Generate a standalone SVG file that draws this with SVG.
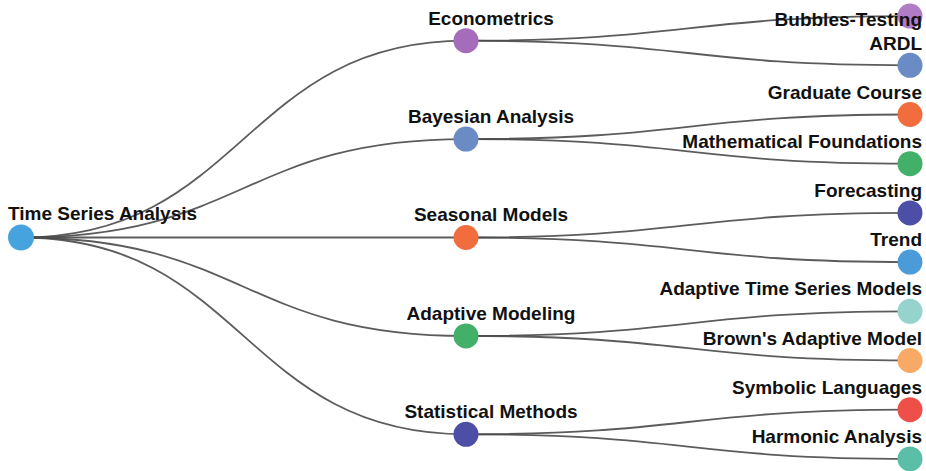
<svg xmlns="http://www.w3.org/2000/svg" width="926" height="471" viewBox="0 0 926 471">
<style>
.link{fill:none;stroke:#4a4a4a;stroke-width:1.8;stroke-opacity:0.9}
text{font-family:"Liberation Sans",Arial,sans-serif;font-weight:bold;font-size:19px;fill:#111}
.leaf text{text-anchor:end}
circle{stroke:none}
</style>
<rect width="926" height="471" fill="#fff"/>
<g id="links">
<path class="link" d="M21,237.5 C243.5,237.5 243.5,40.7 466,40.7"/>
<path class="link" d="M21,237.5 C243.5,237.5 243.5,139.1 466,139.1"/>
<path class="link" d="M21,237.5 C243.5,237.5 243.5,237.5 466,237.5"/>
<path class="link" d="M21,237.5 C243.5,237.5 243.5,335.9 466,335.9"/>
<path class="link" d="M21,237.5 C243.5,237.5 243.5,434.3 466,434.3"/>
<path class="link" d="M466,40.7 C688,40.7 688,16.1 910,16.1"/>
<path class="link" d="M466,40.7 C688,40.7 688,65.3 910,65.3"/>
<path class="link" d="M466,139.1 C688,139.1 688,114.5 910,114.5"/>
<path class="link" d="M466,139.1 C688,139.1 688,163.7 910,163.7"/>
<path class="link" d="M466,237.5 C688,237.5 688,212.9 910,212.9"/>
<path class="link" d="M466,237.5 C688,237.5 688,262.1 910,262.1"/>
<path class="link" d="M466,335.9 C688,335.9 688,311.3 910,311.3"/>
<path class="link" d="M466,335.9 C688,335.9 688,360.5 910,360.5"/>
<path class="link" d="M466,434.3 C688,434.3 688,409.7 910,409.7"/>
<path class="link" d="M466,434.3 C688,434.3 688,458.9 910,458.9"/>
</g>
<g id="n-root"><circle cx="21" cy="237.5" r="13" fill="#47a3de"/><text x="8" y="220">Time Series Analysis</text></g>
<g id="n-econometrics"><circle cx="466" cy="40.7" r="12.5" fill="#a46cbb"/><text x="491" y="25" text-anchor="middle">Econometrics</text></g>
<g id="n-bayesian"><circle cx="466" cy="139.1" r="12.5" fill="#6a8bc3"/><text x="491" y="123" text-anchor="middle">Bayesian Analysis</text></g>
<g id="n-seasonal"><circle cx="466" cy="237.5" r="12.5" fill="#f26d3d"/><text x="491" y="221" text-anchor="middle">Seasonal Models</text></g>
<g id="n-adaptive"><circle cx="466" cy="335.9" r="12.5" fill="#43b06a"/><text x="491" y="320" text-anchor="middle">Adaptive Modeling</text></g>
<g id="n-statistical"><circle cx="466" cy="434.3" r="12.5" fill="#4d4ea6"/><text x="491" y="418" text-anchor="middle">Statistical Methods</text></g>
<g id="n-bubbles" class="leaf"><circle cx="910" cy="16.1" r="12.5" fill="#b07cc6"/><text x="922" y="26">Bubbles-Testing</text></g>
<g id="n-ardl" class="leaf"><circle cx="910" cy="65.3" r="12.5" fill="#6a8bc3"/><text x="922" y="50">ARDL</text></g>
<g id="n-graduate" class="leaf"><circle cx="910" cy="114.5" r="12.5" fill="#f26d3d"/><text x="922" y="99">Graduate Course</text></g>
<g id="n-math" class="leaf"><circle cx="910" cy="163.7" r="12.5" fill="#43b06a"/><text x="922" y="148">Mathematical Foundations</text></g>
<g id="n-forecasting" class="leaf"><circle cx="910" cy="212.9" r="12.5" fill="#4d4ea6"/><text x="922" y="197">Forecasting</text></g>
<g id="n-trend" class="leaf"><circle cx="910" cy="262.1" r="12.5" fill="#4a9bd8"/><text x="922" y="246">Trend</text></g>
<g id="n-atsm" class="leaf"><circle cx="910" cy="311.3" r="12.5" fill="#95d3cc"/><text x="922" y="295">Adaptive Time Series Models</text></g>
<g id="n-brown" class="leaf"><circle cx="910" cy="360.5" r="12.5" fill="#f7a965"/><text x="922" y="345">Brown's Adaptive Model</text></g>
<g id="n-symbolic" class="leaf"><circle cx="910" cy="409.7" r="12.5" fill="#ee4f48"/><text x="922" y="394">Symbolic Languages</text></g>
<g id="n-harmonic" class="leaf"><circle cx="910" cy="458.9" r="12.5" fill="#5bbfa8"/><text x="922" y="443">Harmonic Analysis</text></g>
</svg>
